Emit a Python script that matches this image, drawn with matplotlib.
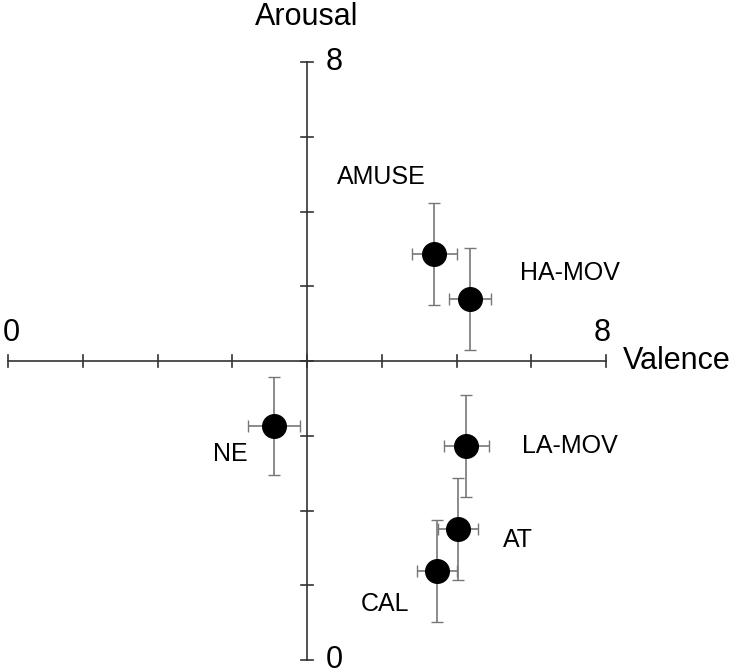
import matplotlib
matplotlib.use("Agg")
import matplotlib.pyplot as plt

labels = ["AMUSE", "HA-MOV", "NE", "LA-MOV", "AT", "CAL"]
valence = [5.70, 6.18, 3.56, 6.13, 6.02, 5.74]
arousal = [5.43, 4.83, 3.13, 2.86, 1.75, 1.19]
val_err = [0.30, 0.28, 0.35, 0.30, 0.27, 0.27]
aro_err = [0.68, 0.68, 0.66, 0.68, 0.68, 0.68]
label_pos = [(5.0, 6.46), (7.52, 5.18), (2.97, 2.75), (7.52, 2.86), (6.82, 1.6), (5.05, 0.75)]

s = 74.75
fig = plt.figure(figsize=(7.51, 6.72), dpi=100)
ax = fig.add_axes([0, 0, 1, 1])
ax.set_xlim(-8 / s, (751 - 8) / s)
ax.set_ylim(-12 / s, 660 / s)
ax.axis("off")

lc = "#333333"
ax.plot([0, 8], [4, 4], color=lc, lw=1.2)
ax.plot([4, 4], [0, 8], color=lc, lw=1.2)
t = 6 / s
for i in range(9):
    ax.plot([i, i], [4 - t, 4 + t], color=lc, lw=1.2)
    ax.plot([4 - t, 4 + t], [i, i], color=lc, lw=1.2)

ax.errorbar(valence, arousal, xerr=val_err, yerr=aro_err, fmt="o", color="black",
            ms=17, ecolor="#777777", elinewidth=1.2, capsize=4, zorder=3)
for lab, (x, y) in zip(labels, label_pos):
    ax.text(x, y, lab, fontsize=18, ha="center", va="center", family="Liberation Sans")

kw = dict(fontsize=22, family="Liberation Sans")
ax.text(0.05, 4.37, "0", ha="center", va="center", **kw)
ax.text(7.95, 4.37, "8", ha="center", va="center", **kw)
ax.text(8.95, 4.0, "Valence", ha="center", va="center", **kw)
ax.text(4.25, 8.0, "8", ha="left", va="center", **kw)
ax.text(4.25, 0.0, "0", ha="left", va="center", **kw)
ax.text(4.0, 8.6, "Arousal", ha="center", va="center", **kw)

fig.savefig("out.png", dpi=100)
